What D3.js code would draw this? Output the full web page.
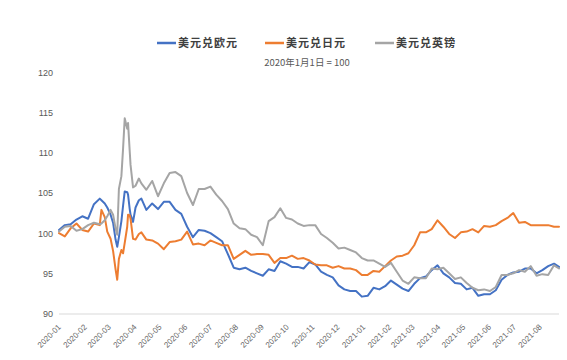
<!DOCTYPE html>
<html><head><meta charset="utf-8">
<script src="https://cdn.jsdelivr.net/npm/d3@7"></script>
<style>
body{margin:0;background:#fff;}
svg{display:block;}
</style></head>
<body>
<svg id="chart" width="567" height="360"></svg>
<script>
const dates = ["2020-01-01","2020-01-08","2020-01-15","2020-01-22","2020-01-29","2020-02-05","2020-02-12","2020-02-19","2020-02-21","2020-02-25","2020-02-28","2020-03-03","2020-03-06","2020-03-09","2020-03-11","2020-03-13","2020-03-16","2020-03-18","2020-03-20","2020-03-23","2020-03-24","2020-03-26","2020-03-27","2020-03-30","2020-04-02","2020-04-06","2020-04-09","2020-04-15","2020-04-22","2020-04-29","2020-05-06","2020-05-13","2020-05-20","2020-05-27","2020-06-03","2020-06-10","2020-06-17","2020-06-24","2020-07-01","2020-07-08","2020-07-15","2020-07-22","2020-07-29","2020-08-05","2020-08-12","2020-08-19","2020-08-26","2020-09-02","2020-09-09","2020-09-16","2020-09-23","2020-09-30","2020-10-07","2020-10-14","2020-10-21","2020-10-28","2020-11-04","2020-11-11","2020-11-18","2020-11-25","2020-12-02","2020-12-09","2020-12-16","2020-12-23","2020-12-30","2021-01-06","2021-01-13","2021-01-20","2021-01-27","2021-02-03","2021-02-10","2021-02-17","2021-02-24","2021-03-03","2021-03-10","2021-03-17","2021-03-24","2021-03-31","2021-04-07","2021-04-14","2021-04-21","2021-04-28","2021-05-05","2021-05-12","2021-05-19","2021-05-26","2021-06-02","2021-06-09","2021-06-16","2021-06-23","2021-06-30","2021-07-07","2021-07-14","2021-07-21","2021-07-28","2021-08-04","2021-08-11","2021-08-18","2021-08-24"];

const eurValues = [100.4,101,101.1,101.7,102.1,101.8,103.6,104.3,104.1,103.7,103.2,102.3,101.3,99.2,98.3,99.5,101.5,103.4,105.2,105.1,104.8,103,102.3,101.4,103.2,104.1,104.3,102.9,103.7,103,103.9,103.9,102.9,102.4,100.8,99.5,100.4,100.3,100,99.5,99,97.4,95.7,95.5,95.7,95.3,95,94.7,95.5,95.3,96.5,96.2,95.8,95.8,95.6,96.4,96.1,95.2,94.8,94.5,93.5,93,92.8,92.8,92.1,92.2,93.2,93,93.4,94.1,93.6,93.1,92.8,93.7,94.4,94.6,95.4,96,95,94.5,93.8,93.7,93,93.2,92.2,92.4,92.4,92.9,94.2,94.8,95.1,95.2,95.6,95.6,95,95.4,95.9,96.2,95.8];

const jpyValues = [100,99.6,100.6,101.2,100.4,100.2,101.2,101,102.9,102,100.2,99.3,97.8,95.5,94.2,96.8,97.9,97.5,98.8,100.8,102.3,102.2,101.8,99.3,99.2,99.9,100.1,99.2,99.1,98.7,98,98.9,99,99.2,100.2,98.6,98.7,98.5,99.1,98.8,98.5,98.5,96.8,97.3,97.8,97.3,97.4,97.4,97.3,96.3,96.9,96.9,97.2,96.8,96.9,96.6,96.1,96,96,95.7,95.9,95.6,95.6,95.4,94.8,94.8,95.3,95.2,95.9,96.6,97.1,97.2,97.5,98.5,100.1,100.1,100.5,101.6,100.8,99.9,99.4,100.1,100.2,100.5,100.1,100.9,100.8,101,101.5,101.9,102.5,101.3,101.4,101,101,101,101,100.8,100.8];

const gbpValues = [100.2,100.8,100.9,100.3,100.5,101,101.3,101.1,101.2,101.6,102.1,102.9,102.3,100.6,99.8,105.5,107.1,110.5,114.3,113,113.7,110.2,108.5,105.7,105.9,106.8,106.2,105.4,106.5,104.6,106.2,107.5,107.6,107.1,105,103.5,105.5,105.5,105.8,104.8,104,103,101.2,100.6,100.5,99.8,99.5,98.5,101.5,102,103.1,101.9,101.7,101.2,100.9,101,101,99.9,99.4,98.8,98.1,98.2,97.9,97.6,96.9,96.6,96.6,96.2,95.8,96.3,95.2,94.1,93.7,94.5,94.4,94.4,95.6,95.5,95.7,95,94.3,94.5,93.8,93.2,92.9,93,92.8,93.3,94.8,94.8,95,95.4,95.2,95.9,94.7,94.9,94.8,96,95.6];

const seriesNames = ["美元兑欧元","美元兑日元","美元兑英镑"];
const seriesColors = ["#4472C4","#ED7D31","#A5A5A5"];
const yTicks = [90,95,100,105,110,115,120];
const monthTicks = ["2020-01","2020-02","2020-03","2020-04","2020-05","2020-06","2020-07","2020-08","2020-09","2020-10","2020-11","2020-12","2021-01","2021-02","2021-03","2021-04","2021-05","2021-06","2021-07","2021-08"];
const subtitle = "2020年1月1日 = 100";

const parseDay = d3.timeParse("%Y-%m-%d");
const parseMonth = d3.timeParse("%Y-%m");
const svg = d3.select("#chart");
const cjk = "'Noto Sans CJK SC','Noto Sans',sans-serif";

const x = d3.scaleTime()
  .domain([parseDay("2020-01-01"), parseDay("2021-08-24")])
  .range([59, 559]);
const y = d3.scaleLinear().domain([90,120]).range([313.5, 72.5]);

// Y axis
const yAxis = svg.append("g").attr("transform","translate(59,0)")
  .call(d3.axisLeft(y).tickValues(yTicks).tickSize(0).tickPadding(6));
yAxis.select(".domain").remove();
yAxis.selectAll("text").attr("fill","#595959").style("font-family","'Liberation Sans',Arial,sans-serif").style("font-size","9px");

// X axis
const xAxis = svg.append("g").attr("transform",`translate(0,${y(90)})`)
  .call(d3.axisBottom(x).tickValues(monthTicks.map(parseMonth)).tickFormat(d3.timeFormat("%Y-%m")).tickSize(0));
xAxis.select(".domain").attr("stroke","#d9d9d9").attr("d","M59,0.5H559");
xAxis.selectAll("text")
  .attr("x",0).attr("y",0).attr("dy",0)
  .attr("text-anchor","end")
  .attr("transform","translate(2,14) rotate(-45)")
  .attr("fill","#666")
  .style("font-family","'Liberation Sans',Arial,sans-serif").style("font-size","8px");

// Lines
const allSeries = [eurValues, jpyValues, gbpValues];
const line = d3.line().x(d=>x(d.date)).y(d=>y(d.v));
allSeries.forEach((vals,i)=>{
  const data = dates.map((d,j)=>({date:parseDay(d), v:vals[j]}));
  svg.append("path").datum(data)
    .attr("fill","none").attr("stroke",seriesColors[i])
    .attr("stroke-width",2).attr("stroke-linejoin","round").attr("stroke-linecap","round")
    .attr("d",line);
});

// Legend
const legendX = [157, 265, 375];
seriesNames.forEach((n,i)=>{
  const g = svg.append("g").attr("transform",`translate(${legendX[i]},43)`);
  g.append("line").attr("x1",0).attr("x2",19).attr("y1",0).attr("y2",0)
    .attr("stroke",seriesColors[i]).attr("stroke-width",2.5);
  g.append("text").attr("x",21).attr("y",0).attr("dy","0.35em")
    .attr("fill","#404040").style("font-family",cjk).style("font-size","11px").style("font-weight","bold")
    .style("letter-spacing","1px")
    .text(n);
});

// Subtitle
svg.append("text").attr("x",307).attr("y",63).attr("dy","0.35em").attr("text-anchor","middle")
  .attr("fill","#595959").style("font-family",cjk).style("font-size","9.5px")
  .text(subtitle);
</script>
</body></html>
